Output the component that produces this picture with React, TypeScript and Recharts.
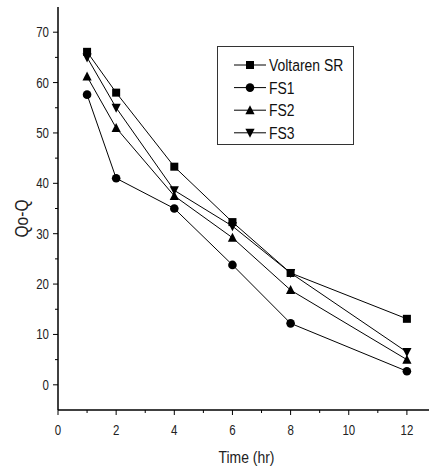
import React from 'react';
import { LineChart, Line, XAxis, YAxis } from 'recharts';

const times = [1, 2, 4, 6, 8, 12];
const voltarenSR = [66.1, 58.0, 43.3, 32.3, 22.2, 13.1];
const fs1 = [57.6, 41.0, 35.0, 23.8, 12.2, 2.7];
const fs2 = [61.2, 51.0, 37.5, 29.2, 18.8, 5.0];
const fs3 = [65.0, 55.0, 38.6, 31.5, 22.2, 6.5];
const xTicks = [0, 1, 2, 3, 4, 5, 6, 7, 8, 9, 10, 11, 12];
const yTicks = [0, 5, 10, 15, 20, 25, 30, 35, 40, 45, 50, 55, 60, 65, 70];

const data = times.map((t, i) => ({
  t,
  v: voltarenSR[i],
  f1: fs1[i],
  f2: fs2[i],
  f3: fs3[i],
}));

const FONT = '"Liberation Sans", Arial, sans-serif';
const NARROW = 0.82;

type Shape = 'square' | 'circle' | 'up' | 'down';

const NText = ({ x, y, size, anchor = 'start', rotate = 0, fill = '#222', children }: any) => (
  <text
    x={0}
    y={0}
    transform={`translate(${x} ${y}) rotate(${rotate}) scale(${NARROW} 1)`}
    textAnchor={anchor}
    fontSize={size}
    fontFamily={FONT}
    fill={fill}
  >
    {children}
  </text>
);

const drawMarker = (shape: Shape, cx: number, cy: number, key?: any) => {
  if (shape === 'square') return <rect key={key} x={cx - 4} y={cy - 4} width={8} height={8} fill="#000" />;
  if (shape === 'circle') return <circle key={key} cx={cx} cy={cy} r={4.3} fill="#000" />;
  if (shape === 'up')
    return <polygon key={key} points={`${cx},${cy - 5} ${cx + 4.6},${cy + 4} ${cx - 4.6},${cy + 4}`} fill="#000" />;
  return <polygon key={key} points={`${cx},${cy + 5} ${cx + 4.6},${cy - 4} ${cx - 4.6},${cy - 4}`} fill="#000" />;
};

const makeDot = (shape: Shape) => (props: any) => {
  const { cx, cy, index } = props;
  if (cx == null || cy == null) return <g key={index} />;
  return drawMarker(shape, cx, cy, index);
};

const series: { key: string; name: string; shape: Shape }[] = [
  { key: 'v', name: 'Voltaren SR', shape: 'square' },
  { key: 'f1', name: 'FS1', shape: 'circle' },
  { key: 'f2', name: 'FS2', shape: 'up' },
  { key: 'f3', name: 'FS3', shape: 'down' },
];

const XTick = (props: any) => {
  const { x, y, payload } = props;
  const v = payload.value;
  const major = v % 2 === 0;
  return (
    <g>
      <line x1={x} x2={x} y1={y} y2={y + (major ? 5 : 3)} stroke="#000" strokeWidth={1} />
      {major && (
        <NText x={x} y={y + 25} size={14} anchor="middle">
          {v}
        </NText>
      )}
    </g>
  );
};

const YTick = (props: any) => {
  const { x, y, payload } = props;
  const v = payload.value;
  const major = v % 10 === 0;
  return (
    <g>
      <line x1={x} x2={x - (major ? 5 : 3)} y1={y} y2={y} stroke="#000" strokeWidth={1} />
      {major && (
        <NText x={x - 9} y={y + 5} size={14} anchor="end">
          {v}
        </NText>
      )}
    </g>
  );
};

const LegendBox = () => (
  <svg width={137} height={99} style={{ display: 'block' }}>
    <rect x={0.5} y={0.5} width={136} height={98} fill="#fff" stroke="#333" strokeWidth={1} />
    {series.map((s, i) => {
      const cy = 19 + i * 22.6;
      return (
        <g key={s.key}>
          <line x1={17} x2={49} y1={cy} y2={cy} stroke="#000" strokeWidth={1} />
          {drawMarker(s.shape, 33, cy)}
          <NText x={52} y={cy + 6} size={17} fill="#111">
            {s.name}
          </NText>
        </g>
      );
    })}
  </svg>
);

export default function App() {
  return (
    <div style={{ position: 'absolute', left: 0, top: 0, width: 429, height: 473, background: '#fff' }}>
      <LineChart width={429} height={473} data={data} margin={{ top: 7, right: 0, bottom: 33, left: 8 }}>
        <XAxis
          dataKey="t"
          type="number"
          domain={[0, 12.76]}
          ticks={xTicks}
          allowDataOverflow
          interval={0}
          tick={<XTick />}
          tickLine={false}
          tickSize={0}
          tickMargin={0}
          height={30}
          axisLine={{ stroke: '#000', strokeWidth: 1.5 }}
          label={(p: any) => {
            const vb = p.viewBox;
            return (
              <NText x={vb.x + vb.width / 2 + 3} y={vb.y + vb.height + 23} size={17} anchor="middle">
                Time (hr)
              </NText>
            );
          }}
        />
        <YAxis
          type="number"
          domain={[-5, 75]}
          ticks={yTicks}
          allowDataOverflow
          interval={0}
          width={50}
          tick={<YTick />}
          tickLine={false}
          tickSize={0}
          tickMargin={0}
          axisLine={{ stroke: '#000', strokeWidth: 1.5 }}
          label={(p: any) => {
            const vb = p.viewBox;
            return (
              <NText x={vb.x + 20} y={vb.y + vb.height / 2 + 10} size={19} anchor="middle" rotate={-90}>
                Qo-Q
              </NText>
            );
          }}
        />
        {series.map((s) => (
          <Line
            key={s.key}
            dataKey={s.key}
            name={s.name}
            stroke="#000"
            strokeWidth={1}
            dot={makeDot(s.shape)}
            activeDot={false}
            isAnimationActive={false}
          />
        ))}
      </LineChart>
      <div style={{ position: 'absolute', left: 217, top: 46 }}>
        <LegendBox />
      </div>
    </div>
  );
}
